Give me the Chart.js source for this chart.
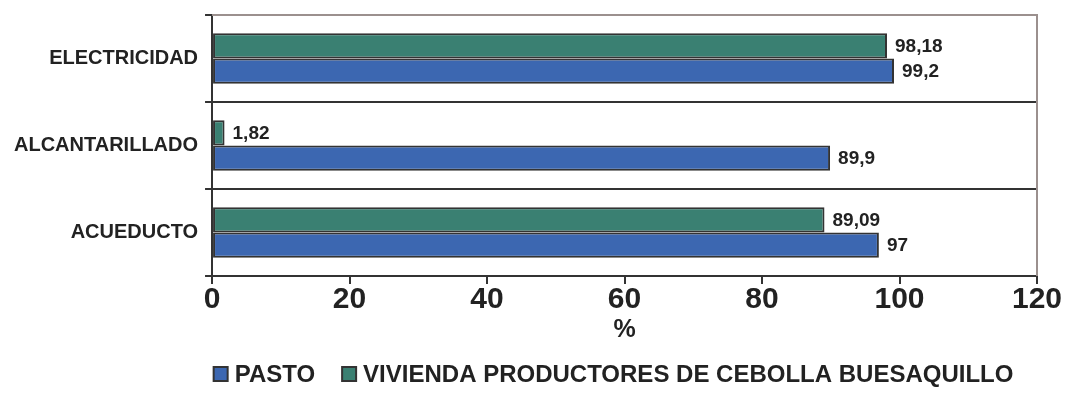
<!DOCTYPE html>
<html>
<head>
<meta charset="utf-8">
<script src="https://cdn.jsdelivr.net/npm/chart.js@4.4.0/dist/chart.umd.min.js"></script>
<style>
  html, body { margin: 0; padding: 0; background: #fff; }
  #wrap { width: 1066px; height: 401px; }
</style>
</head>
<body>
<div id="wrap"><canvas id="chart"></canvas></div>
<script>
const categories = ['ELECTRICIDAD', 'ALCANTARILLADO', 'ACUEDUCTO'];
const pasto = [99.2, 89.9, 97];
const vivienda = [98.18, 1.82, 89.09];
const xTicks = [0, 20, 40, 60, 80, 100, 120];

const FONT = '"Liberation Sans", Arial, sans-serif';
const DARK = '#333333';

// draws the value after the end of each bar
const valueLabels = {
  id: 'valueLabels',
  afterDatasetsDraw(chart) {
    const ctx = chart.ctx;
    ctx.save();
    ctx.font = 'bold 19px ' + FONT;
    ctx.fillStyle = '#222';
    ctx.textAlign = 'left';
    ctx.textBaseline = 'middle';
    chart.data.datasets.forEach((ds, i) => {
      chart.getDatasetMeta(i).data.forEach((bar, j) => {
        const txt = String(ds.data[j]).replace('.', ',');
        ctx.fillText(txt, bar.x + 8, bar.y + 1);
      });
    });
    ctx.restore();
  }
};

// grey frame on top and right of the plot
const frame = {
  id: 'frame',
  afterDraw(chart) {
    const a = chart.chartArea;
    const ctx = chart.ctx;
    ctx.save();
    ctx.strokeStyle = '#9b908e';
    ctx.lineWidth = 2;
    ctx.beginPath();
    ctx.moveTo(a.left, a.top);
    ctx.lineTo(a.right, a.top);
    ctx.lineTo(a.right, a.bottom);
    ctx.stroke();
    ctx.restore();
  }
};

// legend under the axis title, PASTO first
const bottomLegend = {
  id: 'bottomLegend',
  afterDraw(chart) {
    const ctx = chart.ctx;
    const a = chart.chartArea;
    const items = chart.data.datasets.slice().reverse();
    const box = 14, gap = 7, itemGap = 27;
    ctx.save();
    ctx.font = 'bold 24px ' + FONT;
    ctx.textBaseline = 'middle';
    ctx.textAlign = 'left';
    const widths = items.map(d => box + gap + ctx.measureText(d.label).width);
    const total = widths.reduce((s, w) => s + w, 0) + itemGap * (items.length - 1);
    let x = (a.left + a.right) / 2 - 11 - total / 2;
    const y = a.bottom + 98;
    items.forEach((d, i) => {
      ctx.fillStyle = d.backgroundColor;
      ctx.fillRect(x, y - box / 2, box, box);
      ctx.strokeStyle = DARK;
      ctx.lineWidth = 2;
      ctx.strokeRect(x, y - box / 2, box, box);
      ctx.fillStyle = '#222';
      ctx.fillText(d.label, x + box + gap, y + 1);
      x += widths[i] + itemGap;
    });
    ctx.restore();
  }
};

new Chart(document.getElementById('chart'), {
  type: 'bar',
  data: {
    labels: categories,
    datasets: [
      {
        label: 'VIVIENDA PRODUCTORES DE CEBOLLA BUESAQUILLO',
        data: vivienda,
        backgroundColor: '#3a8072',
        borderColor: DARK,
        borderWidth: 2,
        borderSkipped: false
      },
      {
        label: 'PASTO',
        data: pasto,
        backgroundColor: '#3c67b1',
        borderColor: DARK,
        borderWidth: 2,
        borderSkipped: false
      }
    ]
  },
  options: {
    indexAxis: 'y',
    responsive: true,
    maintainAspectRatio: false,
    animation: false,
    layout: { padding: { left: 7, right: 29, top: 15, bottom: 58 } },
    datasets: { bar: { barPercentage: 1, categoryPercentage: 0.58 } },
    scales: {
      x: {
        min: 0,
        max: 120,
        afterBuildTicks(axis) { axis.ticks = xTicks.map(v => ({ value: v })); },
        grid: { drawOnChartArea: false, drawTicks: true, tickLength: 8, color: DARK, lineWidth: 2 },
        border: { color: DARK, width: 2 },
        ticks: { color: '#222', font: { family: FONT, size: 30, weight: 'bold', lineHeight: 1 }, padding: 1 },
        title: { display: true, text: '%', color: '#222', font: { family: FONT, size: 25, weight: 'bold', lineHeight: 1 }, padding: { top: 2, bottom: 0 } }
      },
      y: {
        afterFit(scale) { scale.paddingTop = 0; scale.paddingBottom = 0; },
        grid: {
          color: c => c.index === 0 ? '#9b908e' : DARK,
          tickColor: DARK,
          lineWidth: 2,
          tickLength: 7
        },
        border: { color: DARK, width: 2 },
        ticks: { color: '#222', font: { family: FONT, size: 20, weight: 'bold' }, padding: 7 }
      }
    },
    plugins: {
      legend: { display: false },
      tooltip: { enabled: false }
    }
  },
  plugins: [valueLabels, frame, bottomLegend]
});
</script>
</body>
</html>
